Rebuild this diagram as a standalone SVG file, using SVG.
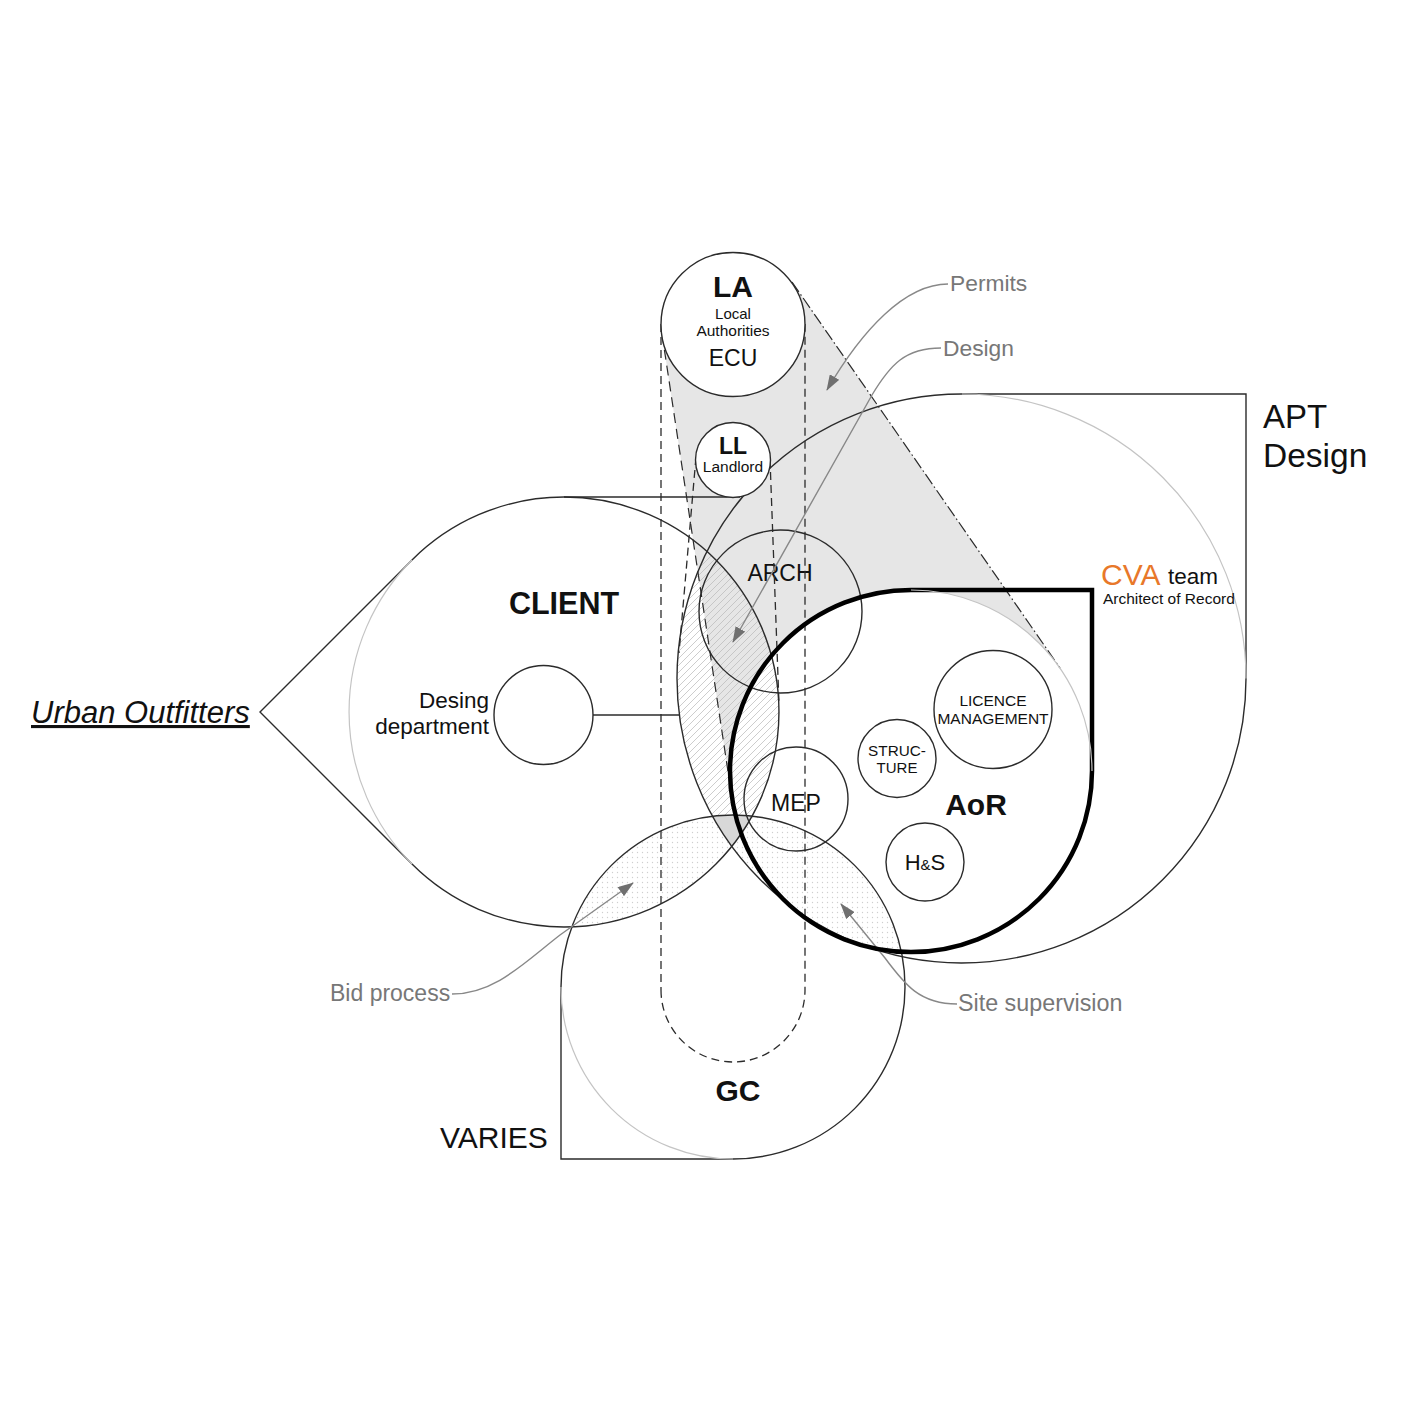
<svg xmlns="http://www.w3.org/2000/svg" width="1411" height="1411" viewBox="0 0 1411 1411">
<style>
.o{fill:none;stroke:#2b2b2b;stroke-width:1.4}
.w{fill:#fff;stroke:#2b2b2b;stroke-width:1.4}
.faint{fill:none;stroke:#c4c4c4;stroke-width:1.2}
.dash{fill:none;stroke:#2b2b2b;stroke-width:1.3;stroke-dasharray:8 5}
.conn{fill:none;stroke:#888;stroke-width:1.4;marker-end:url(#ah)}
text{font-family:"Liberation Sans",Arial,Helvetica,sans-serif;fill:#111}
.b{font-weight:bold}
.m{text-anchor:middle}
.g{fill:#777}
</style>
<defs>
<marker id="ah" viewBox="0 0 16 11" refX="15" refY="5.5" markerWidth="16" markerHeight="11" markerUnits="userSpaceOnUse" orient="auto">
<path d="M0,0 L16,5.5 L0,11 z" fill="#707070"/>
</marker>
<pattern id="hatch" patternUnits="userSpaceOnUse" width="7" height="7">
<path d="M-1,1 L1,-1 M0,7 L7,0 M6,8 L8,6" stroke="#b8b8b8" stroke-width="0.7"/>
</pattern>
<pattern id="dots" patternUnits="userSpaceOnUse" width="5" height="5">
<circle cx="2.5" cy="2.5" r="0.7" fill="#cfcfcf"/>
</pattern>
<mask id="mLens">
<circle cx="962" cy="678.5" r="284.5" fill="#fff"/>
<circle cx="733" cy="987" r="172" fill="#000"/>
</mask>
<clipPath id="cpAPT"><circle cx="962" cy="678.5" r="284.5"/></clipPath>
<clipPath id="cpGC"><circle cx="733" cy="987" r="172"/></clipPath>
</defs>

<g id="la-cone-fill">
<polygon points="662,334 732,798 911,771 1060,668 792,282 733,324" fill="#e6e6e6"/>
</g>
<g id="aor-fill">
<circle cx="911" cy="771" r="181" fill="#fff"/>
</g>
<g id="overlaps">
<circle cx="564" cy="712" r="215" fill="url(#hatch)" mask="url(#mLens)"/>
<g clip-path="url(#cpGC)">
<circle cx="564" cy="712" r="215" fill="url(#dots)"/>
<circle cx="962" cy="678.5" r="284.5" fill="url(#dots)"/>
</g>
<g clip-path="url(#cpAPT)">
<circle cx="564" cy="712" r="215" fill="#d8d8d8" clip-path="url(#cpGC)"/>
</g>
</g>

<g id="client">
<path class="o" d="M260 712 L412 560 A215 215 0 1 1 412 864 Z"/>
<path class="faint" d="M412 560 A215 215 0 0 0 412 864"/>
<text class="b m" x="564" y="614" font-size="30.5">CLIENT</text>
</g>
<g id="urban-outfitters">
<text x="31" y="723" font-size="31" font-style="italic" text-decoration="underline">Urban Outfitters</text>
</g>
<g id="apt">
<path class="o" d="M962 394 H1246 V678.5 A284.5 284.5 0 1 1 962 394 Z"/>
<path class="faint" d="M962 394 A284.5 284.5 0 0 1 1246 678.5"/>
<text x="1263" y="428" font-size="33">APT</text>
<text x="1263" y="467" font-size="33.5">Design</text>
</g>
<g id="gc">
<path class="o" d="M733 815 A172 172 0 0 1 905 987 A172 172 0 0 1 733 1159 H561 V987 A172 172 0 0 1 733 815 Z"/>
<path class="faint" d="M561 987 A172 172 0 0 0 733 1159"/>
<text class="b m" x="738" y="1101" font-size="30">GC</text>
</g>
<g id="varies">
<text x="440" y="1148" font-size="30">VARIES</text>
</g>
<g id="arch">
<circle class="o" cx="780.5" cy="611.5" r="81.5"/>
<text class="m" x="780" y="581" font-size="23">ARCH</text>
</g>
<g id="mep">
<circle class="o" cx="796" cy="799" r="52"/>
<text class="m" x="796" y="811" font-size="23">MEP</text>
</g>

<g id="connectors">
<line class="dash" x1="661" y1="324" x2="661" y2="990"/>
<path class="dash" d="M661 990 A72 72 0 0 0 805 990 V324"/>
<line x1="662" y1="334" x2="732" y2="798" stroke="#2b2b2b" stroke-width="1.2" stroke-dasharray="10 6"/>
<line x1="792" y1="282" x2="1060" y2="668" stroke="#2b2b2b" stroke-width="1.2" stroke-dasharray="12 3 1.5 3"/>
<line class="dash" x1="696" y1="457" x2="679" y2="653"/>
<line class="dash" x1="770" y1="459" x2="779" y2="704"/>
<line class="o" x1="564" y1="497" x2="740" y2="497"/>
<line class="o" x1="592.5" y1="715" x2="680" y2="715"/>
<path class="conn" d="M948 284 C905 284 862 330 827 390"/>
<path class="conn" d="M941 348 C905 348 890 365 872 395 L733 642"/>
<path class="conn" d="M452 994 C495 994 525 962 560 935 L633 883"/>
<path class="conn" d="M957 1004 C920 1004 905 985 885 958 L841 904"/>
</g>

<g id="la">
<circle class="w" cx="733" cy="324.5" r="72"/>
<text class="b m" x="733" y="297" font-size="30">LA</text>
<text class="m" x="733" y="319" font-size="15">Local</text>
<text class="m" x="733" y="336" font-size="15.5">Authorities</text>
<text class="m" x="733" y="366" font-size="23">ECU</text>
</g>
<g id="ll">
<circle class="w" cx="733" cy="460" r="37.5"/>
<text class="b m" x="733" y="454" font-size="23">LL</text>
<text class="m" x="733" y="472" font-size="15.5">Landlord</text>
</g>
<g id="aor">
<path d="M911 590 H1092 V771 A181 181 0 1 1 911 590 Z" fill="none" stroke="#000" stroke-width="4.5"/>
<path class="faint" d="M911 590 A181 181 0 0 1 1092 771"/>
<text class="b m" x="976" y="815" font-size="30">AoR</text>
</g>
<g id="cva-team">
<text x="1101" y="585" font-size="30" style="fill:#e8782a">CVA</text>
<text x="1168" y="584" font-size="22.5">team</text>
<text x="1103" y="604" font-size="15.5">Architect of Record</text>
</g>
<g id="licence">
<circle class="w" cx="993" cy="709.5" r="59"/>
<text class="m" x="993" y="706" font-size="15.5">LICENCE</text>
<text class="m" x="993" y="724" font-size="15.5">MANAGEMENT</text>
</g>
<g id="structure">
<circle class="w" cx="897" cy="758.5" r="39"/>
<text class="m" x="897" y="756" font-size="15.3">STRUC-</text>
<text class="m" x="897" y="773" font-size="15">TURE</text>
</g>
<g id="hs">
<circle class="w" cx="925" cy="862" r="39"/>
<text class="m" x="925" y="870" font-size="22">H<tspan font-size="15">&amp;</tspan>S</text>
</g>
<g id="design-dept">
<circle class="w" cx="543.5" cy="715" r="49.5"/>
<text x="489" y="708" font-size="22.5" text-anchor="end">Desing</text>
<text x="489" y="734" font-size="22.5" text-anchor="end">department</text>
</g>
<g id="labels">
<text class="g" x="950" y="291" font-size="22.8">Permits</text>
<text class="g" x="943" y="356" font-size="22.8">Design</text>
<text class="g" x="330" y="1001" font-size="23">Bid process</text>
<text class="g" x="958" y="1011" font-size="23.3">Site supervision</text>
</g>
</svg>
